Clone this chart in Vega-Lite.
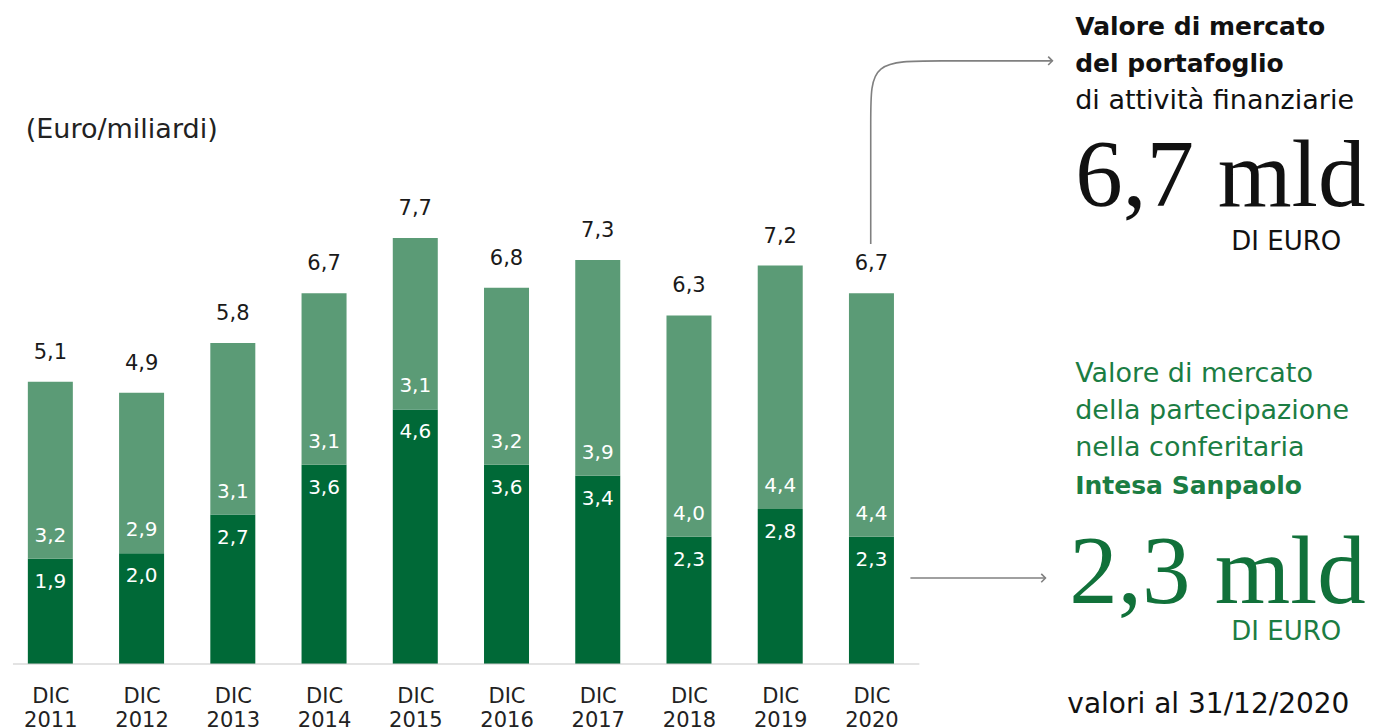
{
  "$schema": "https://vega.github.io/schema/vega-lite/v6.json",
  "width": 1386,
  "height": 664,
  "autosize": "none",
  "padding": {"left": 0, "top": 0, "right": 0, "bottom": 63},
  "background": "white",
  "config": {
    "view": {"stroke": null},
    "font": "DejaVu Sans",
    "locale": {"number": {"decimal": ",", "thousands": ".", "grouping": [3], "currency": ["€", ""]}}
  },
  "data": {
    "values": [
      {"year": 2011, "intesa": 1.9, "altro": 3.2, "totale": 5.1},
      {"year": 2012, "intesa": 2.0, "altro": 2.9, "totale": 4.9},
      {"year": 2013, "intesa": 2.7, "altro": 3.1, "totale": 5.8},
      {"year": 2014, "intesa": 3.6, "altro": 3.1, "totale": 6.7},
      {"year": 2015, "intesa": 4.6, "altro": 3.1, "totale": 7.7},
      {"year": 2016, "intesa": 3.6, "altro": 3.2, "totale": 6.8},
      {"year": 2017, "intesa": 3.4, "altro": 3.9, "totale": 7.3},
      {"year": 2018, "intesa": 2.3, "altro": 4.0, "totale": 6.3},
      {"year": 2019, "intesa": 2.8, "altro": 4.4, "totale": 7.2},
      {"year": 2020, "intesa": 2.3, "altro": 4.4, "totale": 6.7}
    ]
  },
  "layer": [
    {
      "mark": {"type": "bar", "color": "#006937", "size": 45},
      "encoding": {
        "x": {
          "field": "year", "type": "quantitative",
          "scale": {"domain": [2010.503, 2025.585], "nice": false, "zero": false},
          "axis": {
            "values": [2011, 2012, 2013, 2014, 2015, 2016, 2017, 2018, 2019, 2020],
            "format": "d",
            "labelExpr": "['DIC', datum.label]",
            "domain": false, "ticks": false, "grid": false, "title": null,
            "labelFontSize": 21, "labelColor": "#222222", "labelPadding": 21,
            "labelLineHeight": 24, "labelOverlap": false, "labelFlush": false,
            "labelFont": "DejaVu Sans"
          }
        },
        "y": {"field": "intesa", "type": "quantitative", "stack": null,
              "scale": {"domain": [0, 12], "nice": false, "zero": false}, "axis": null}
      }
    },
    {
      "data": {"values": [{"x1": 2010.59, "x2": 2020.525, "y": 0}]},
      "mark": {"type": "rule", "color": "#c8c8c8", "strokeWidth": 1.2},
      "encoding": {
        "x": {"field": "x1", "type": "quantitative"},
        "x2": {"field": "x2"},
        "y": {"field": "y", "type": "quantitative"}
      }
    },
    {
      "mark": {"type": "bar", "color": "#5b9b76", "size": 45},
      "encoding": {
        "x": {"field": "year", "type": "quantitative"},
        "y": {"field": "intesa", "type": "quantitative"},
        "y2": {"field": "totale"}
      }
    },
    {
      "mark": {"type": "text", "color": "#ffffff", "fontSize": 20, "dy": -23, "baseline": "middle"},
      "encoding": {
        "x": {"field": "year", "type": "quantitative"},
        "y": {"field": "intesa", "type": "quantitative"},
        "text": {"field": "altro", "type": "quantitative", "format": ".1f"}
      }
    },
    {
      "mark": {"type": "text", "color": "#ffffff", "fontSize": 20, "dy": 23, "baseline": "middle"},
      "encoding": {
        "x": {"field": "year", "type": "quantitative"},
        "y": {"field": "intesa", "type": "quantitative"},
        "text": {"field": "intesa", "type": "quantitative", "format": ".1f"}
      }
    },
    {
      "mark": {"type": "text", "color": "#1a1a1a", "fontSize": 21, "dy": -29, "baseline": "middle"},
      "encoding": {
        "x": {"field": "year", "type": "quantitative"},
        "y": {"field": "totale", "type": "quantitative"},
        "text": {"field": "totale", "type": "quantitative", "format": ".1f"}
      }
    },
    {
      "data": {"values": [
        {"px": 2019.992, "py": 7.59, "o": 1},
        {"px": 2019.992, "py": 10.01, "o": 2},
        {"px": 2019.992, "py": 10.90, "o": 3},
        {"px": 2020.66, "py": 10.90, "o": 4},
        {"px": 2021.983, "py": 10.90, "o": 5}
      ]},
      "mark": {"type": "line", "color": "#808080", "strokeWidth": 1.6, "interpolate": "basis"},
      "encoding": {
        "x": {"field": "px", "type": "quantitative"},
        "y": {"field": "py", "type": "quantitative"},
        "order": {"field": "o"}
      }
    },
    {
      "data": {"values": [
        {"px": 2020.427, "py": 1.554},
        {"px": 2021.907, "py": 1.554}
      ]},
      "mark": {"type": "line", "color": "#808080", "strokeWidth": 1.6},
      "encoding": {
        "x": {"field": "px", "type": "quantitative"},
        "y": {"field": "py", "type": "quantitative"}
      }
    },
    {
      "data": {"values": [
        {"px": 2021.983, "py": 10.90},
        {"px": 2021.907, "py": 1.554}
      ]},
      "mark": {"type": "point", "shape": "M-1,-1L0,0L-1,1", "filled": false, "color": "#808080", "strokeWidth": 1.6, "size": 70, "opacity": 1},
      "encoding": {
        "x": {"field": "px", "type": "quantitative"},
        "y": {"field": "py", "type": "quantitative"}
      }
    },
    {
      "data": {"values": [{"px": 2010.73, "py": 9.65, "t": "(Euro/miliardi)"}]},
      "mark": {"type": "text", "align": "left", "baseline": "middle", "fontSize": 27, "color": "#222222"},
      "encoding": {
        "x": {"field": "px", "type": "quantitative"},
        "y": {"field": "py", "type": "quantitative"},
        "text": {"field": "t"}
      }
    },
    {
      "data": {"values": [
        {"px": 2022.233, "py": 11.51, "t": "Valore di mercato"},
        {"px": 2022.233, "py": 10.84, "t": "del portafoglio"}
      ]},
      "mark": {"type": "text", "align": "left", "baseline": "middle", "fontSize": 25, "fontWeight": "bold", "color": "#111111"},
      "encoding": {
        "x": {"field": "px", "type": "quantitative"},
        "y": {"field": "py", "type": "quantitative"},
        "text": {"field": "t"}
      }
    },
    {
      "data": {"values": [
        {"px": 2022.233, "py": 10.17, "t": "di attività finanziarie"}
      ]},
      "mark": {"type": "text", "align": "left", "baseline": "middle", "fontSize": 27, "color": "#111111"},
      "encoding": {
        "x": {"field": "px", "type": "quantitative"},
        "y": {"field": "py", "type": "quantitative"},
        "text": {"field": "t"}
      }
    },
    {
      "data": {"values": [
        {"px": 2022.147, "py": -0.741, "t": "valori al 31/12/2020"}
      ]},
      "mark": {"type": "text", "align": "left", "baseline": "middle", "fontSize": 28, "color": "#111111"},
      "encoding": {
        "x": {"field": "px", "type": "quantitative"},
        "y": {"field": "py", "type": "quantitative"},
        "text": {"field": "t"}
      }
    },
    {
      "data": {"values": [
        {"px": 2022.233, "py": 5.24, "t": "Valore di mercato"},
        {"px": 2022.233, "py": 4.57, "t": "della partecipazione"},
        {"px": 2022.233, "py": 3.90, "t": "nella conferitaria"}
      ]},
      "mark": {"type": "text", "align": "left", "baseline": "middle", "fontSize": 27, "color": "#1b7d43"},
      "encoding": {
        "x": {"field": "px", "type": "quantitative"},
        "y": {"field": "py", "type": "quantitative"},
        "text": {"field": "t"}
      }
    },
    {
      "data": {"values": [{"px": 2022.233, "py": 3.22, "t": "Intesa Sanpaolo"}]},
      "mark": {"type": "text", "align": "left", "baseline": "middle", "fontSize": 25, "fontWeight": "bold", "color": "#1b7d43"},
      "encoding": {
        "x": {"field": "px", "type": "quantitative"},
        "y": {"field": "py", "type": "quantitative"},
        "text": {"field": "t"}
      }
    },
    {
      "data": {"values": [{"px": 2022.233, "py": 8.27, "t": "6,7 mld"}]},
      "mark": {"type": "text", "align": "left", "baseline": "alphabetic", "fontSize": 95, "font": "Liberation Serif", "color": "#111111"},
      "encoding": {
        "x": {"field": "px", "type": "quantitative"},
        "y": {"field": "py", "type": "quantitative"},
        "text": {"field": "t"}
      }
    },
    {
      "data": {"values": [{"px": 2022.168, "py": 1.10, "t": "2,3 mld"}]},
      "mark": {"type": "text", "align": "left", "baseline": "alphabetic", "fontSize": 97, "font": "Liberation Serif", "color": "#11713a"},
      "encoding": {
        "x": {"field": "px", "type": "quantitative"},
        "y": {"field": "py", "type": "quantitative"},
        "text": {"field": "t"}
      }
    },
    {
      "data": {"values": [{"px": 2025.149, "py": 7.62, "t": "DI EURO"}]},
      "mark": {"type": "text", "align": "right", "baseline": "middle", "fontSize": 26, "color": "#111111"},
      "encoding": {
        "x": {"field": "px", "type": "quantitative"},
        "y": {"field": "py", "type": "quantitative"},
        "text": {"field": "t"}
      }
    },
    {
      "data": {"values": [{"px": 2025.149, "py": 0.58, "t": "DI EURO"}]},
      "mark": {"type": "text", "align": "right", "baseline": "middle", "fontSize": 26, "color": "#1b7d43"},
      "encoding": {
        "x": {"field": "px", "type": "quantitative"},
        "y": {"field": "py", "type": "quantitative"},
        "text": {"field": "t"}
      }
    }
  ]
}
